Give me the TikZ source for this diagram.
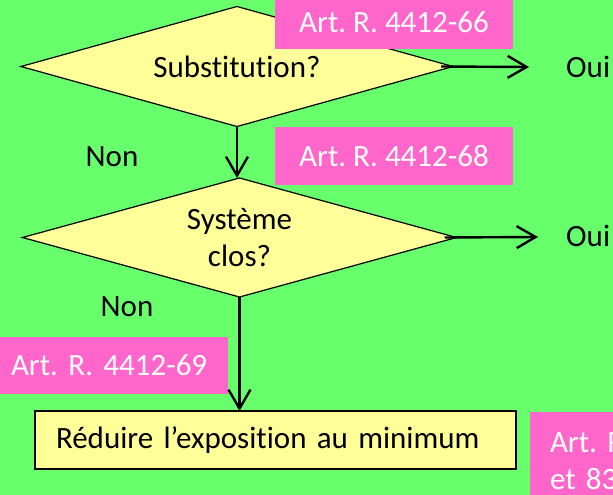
\documentclass[tikz,border=0pt]{standalone}
\usepackage{fontspec}
\setmainfont{Carlito}[Ligatures={NoCommon}]
\usetikzlibrary{shapes.geometric,arrows.meta}
\definecolor{bggreen}{RGB}{104,255,108}
\definecolor{pinkbg}{RGB}{255,102,204}
\definecolor{paleyellow}{RGB}{255,255,153}
\tikzset{
  big/.style={font=\fontsize{31}{37}\selectfont},
  decision/.style={diamond, draw=black, line width=1.2pt, fill=paleyellow, inner sep=0pt, outer sep=0pt, align=center, big},
  actionbox/.style={rectangle, draw=black, line width=1.6pt, fill=paleyellow, inner ysep=0pt, outer sep=0pt, big},
  refbox/.style={rectangle, fill=pinkbg, text=white, inner ysep=0pt, outer sep=0pt, big},
  lbl/.style={inner sep=0pt, big},
  flow/.style={line width=2.4pt, -{Straight Barb[length=19pt,width=22pt,line width=2.4pt]}},
}
\begin{document}
\frenchspacing
\begin{tikzpicture}[x=1pt,y=-1pt]
\fill[bggreen] (0,0) rectangle (613,495);
\useasboundingbox (0,0) rectangle (613,495);
\clip (0,0) rectangle (613,495);

% decisions
\node[decision, aspect=3.6, minimum width=432pt, minimum height=120pt] (d1) at (237,66.5) {Substitution?};
\node[decision, aspect=3.65, minimum width=434pt, minimum height=119pt] (d2) at (239.5,237.5) {Système\\clos?};

% action
\node[actionbox, minimum width=481pt, minimum height=58pt, text width=439pt, inner xsep=21pt, align=left] (act) at (275.5,440) {Réduire l’exposition au minimum};

% reference boxes
\node[refbox, minimum width=238pt, minimum height=54pt] (r1) at (394,22) {Art. R. 4412-66};
\node[refbox, minimum width=238pt, minimum height=58pt] (r2) at (394,156) {Art. R. 4412-68};
\node[refbox, anchor=west, minimum height=57pt, text width=206pt, inner xsep=11pt, align=left] (r3) at (0,365.5) {Art. R. 4412-69};
\node[refbox, anchor=north west, minimum height=98pt, text width=80pt, inner xsep=20pt, align=left] (r4) at (530,412) {Art. R\\et 83};

% labels
\node[lbl, anchor=west] (oui1) at (566,67) {Oui};
\node[lbl, anchor=west] (oui2) at (566,236) {Oui};
\node[lbl] (non1) at (112,157) {Non};
\node[lbl] (non2) at (127,307) {Non};

% connectors
\coordinate (e1) at (529,67);
\coordinate (e2) at (538,237);
\draw[flow] ([xshift=-12pt]d1.east) -- (e1);
\draw[flow] ([xshift=-12pt]d2.east) -- (e2);
\draw[flow] (d1.south) -- (d1.south |- d2.north);
\draw[flow] (d2.south) -- (d2.south |- act.north);
\end{tikzpicture}
\end{document}
